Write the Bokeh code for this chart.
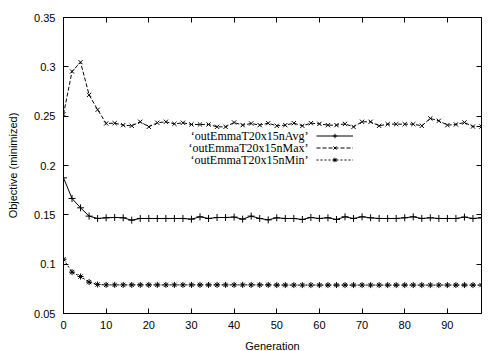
from bokeh.plotting import figure
from bokeh.models import (Range1d, FixedTicker, LinearAxis, Legend, LegendItem,
                          Label, CustomJSTickFormatter)
from bokeh.embed import file_html
from bokeh.resources import INLINE

# ---- data -------------------------------------------------------------
generations = list(range(0, 100, 2))

avg_values = [0.1875, 0.1666, 0.1571, 0.1487, 0.1463, 0.1470, 0.1473, 0.1470, 0.1446, 0.1463,
              0.1463, 0.1463, 0.1463, 0.1463, 0.1463, 0.1456, 0.1480, 0.1463, 0.1473, 0.1473,
              0.1477, 0.1456, 0.1487, 0.1463, 0.1449, 0.1470, 0.1463, 0.1463, 0.1453, 0.1473,
              0.1463, 0.1470, 0.1453, 0.1480, 0.1463, 0.1480, 0.1470, 0.1463, 0.1463, 0.1463,
              0.1470, 0.1480, 0.1463, 0.1470, 0.1463, 0.1463, 0.1463, 0.1477, 0.1463, 0.1470]

max_values = [0.2520, 0.2953, 0.3047, 0.2716, 0.2565, 0.2426, 0.2429, 0.2409, 0.2402, 0.2443,
              0.2392, 0.2433, 0.2443, 0.2422, 0.2433, 0.2416, 0.2416, 0.2416, 0.2392, 0.2392,
              0.2436, 0.2409, 0.2426, 0.2409, 0.2429, 0.2402, 0.2409, 0.2429, 0.2402, 0.2429,
              0.2422, 0.2409, 0.2409, 0.2422, 0.2392, 0.2443, 0.2443, 0.2402, 0.2419, 0.2419,
              0.2419, 0.2419, 0.2402, 0.2477, 0.2453, 0.2409, 0.2416, 0.2436, 0.2395, 0.2395]

min_values = [0.1050, 0.0919, 0.0875, 0.0818, 0.0794, 0.0790, 0.0790, 0.0790, 0.0790, 0.0790,
              0.0790, 0.0790, 0.0790, 0.0790, 0.0790, 0.0790, 0.0790, 0.0790, 0.0790, 0.0790,
              0.0790, 0.0790, 0.0790, 0.0790, 0.0790, 0.0788, 0.0788, 0.0788, 0.0788, 0.0788,
              0.0788, 0.0788, 0.0788, 0.0788, 0.0788, 0.0788, 0.0788, 0.0788, 0.0788, 0.0788,
              0.0788, 0.0788, 0.0788, 0.0788, 0.0788, 0.0788, 0.0788, 0.0788, 0.0788, 0.0788]

series_names = ["\u2018outEmmaT20x15nAvg\u2019",
                "\u2018outEmmaT20x15nMax\u2019",
                "\u2018outEmmaT20x15nMin\u2019"]

x_ticks = [0, 10, 20, 30, 40, 50, 60, 70, 80, 90]
y_ticks = [0.05, 0.1, 0.15, 0.2, 0.25, 0.3, 0.35]
x_limits = (0, 98)
y_limits = (0.05, 0.35)

# ---- figure -----------------------------------------------------------
p = figure(frame_width=418, frame_height=296,
           output_backend="svg", toolbar_location=None,
           x_range=Range1d(*x_limits), y_range=Range1d(*y_limits),
           min_border_left=63, min_border_right=20,
           min_border_top=17, min_border_bottom=38,
           x_axis_label="Generation", y_axis_label="Objective (minimized)")

p.xgrid.visible = False
p.ygrid.visible = False
p.outline_line_color = "black"
p.outline_line_width = 1
p.background_fill_color = "white"
p.border_fill_color = "white"

blank_fmt = CustomJSTickFormatter(code="return '';")
p.add_layout(LinearAxis(formatter=blank_fmt, major_label_standoff=0), "above")
p.add_layout(LinearAxis(formatter=blank_fmt, major_label_standoff=0), "right")

ytick_fmt = CustomJSTickFormatter(code="return String(parseFloat(tick.toFixed(2)));")

for ax in p.xaxis:
    ax.ticker = FixedTicker(ticks=x_ticks)
for ax in p.yaxis:
    ax.ticker = FixedTicker(ticks=y_ticks)
p.left[0].formatter = ytick_fmt

for ax in p.axis:
    ax.major_tick_in = 5
    ax.major_tick_out = 0
    ax.minor_tick_line_color = None
    ax.axis_line_color = "black"
    ax.major_tick_line_color = "black"
    ax.major_label_text_font = "Liberation Sans"
    ax.major_label_text_font_size = "11px"
    ax.major_label_text_color = "black"
    ax.axis_label_text_font = "Liberation Sans"
    ax.axis_label_text_font_size = "11px"
    ax.axis_label_text_font_style = "normal"
    ax.axis_label_text_color = "black"

p.below[0].major_label_standoff = 7
p.below[0].axis_label_standoff = 8
p.left[0].major_label_standoff = 8
p.left[0].axis_label_standoff = 12

# ---- series -----------------------------------------------------------
l_avg = p.line(generations, avg_values, line_color="black", line_width=1)
s_avg = p.scatter(generations, avg_values, marker="cross", size=7,
                  line_color="black", line_width=1)
l_max = p.line(generations, max_values, line_color="black", line_width=1, line_dash="4 2")
s_max = p.scatter(generations, max_values, marker="x", size=6,
                  line_color="black", line_width=1)
l_min = p.line(generations, min_values, line_color="black", line_width=1, line_dash="2 2")
s_min = p.scatter(generations, min_values, marker="asterisk", size=6,
                  line_color="black", line_width=1)

# ---- legend (gnuplot style: text on the left, sample on the right) ----
legend = Legend(items=[LegendItem(label="", renderers=[l_avg, s_avg]),
                       LegendItem(label="", renderers=[l_max, s_max]),
                       LegendItem(label="", renderers=[l_min, s_min])],
                location=(253, 148.5), orientation="vertical",
                glyph_width=37, glyph_height=11, label_width=0, label_height=11,
                label_standoff=0, label_text_font_size="6px",
                spacing=1, padding=0, margin=0,
                border_line_color=None, background_fill_alpha=0)
p.add_layout(legend)

row_y = [178, 166, 154]
for name, yy in zip(series_names, row_y):
    p.add_layout(Label(x=245, y=yy, x_units="screen", y_units="screen", text=name,
                       text_align="right", text_baseline="middle",
                       text_font="Liberation Serif", text_font_size="12px",
                       text_color="black"))

open("out.html", "w").write(file_html(p, INLINE))
